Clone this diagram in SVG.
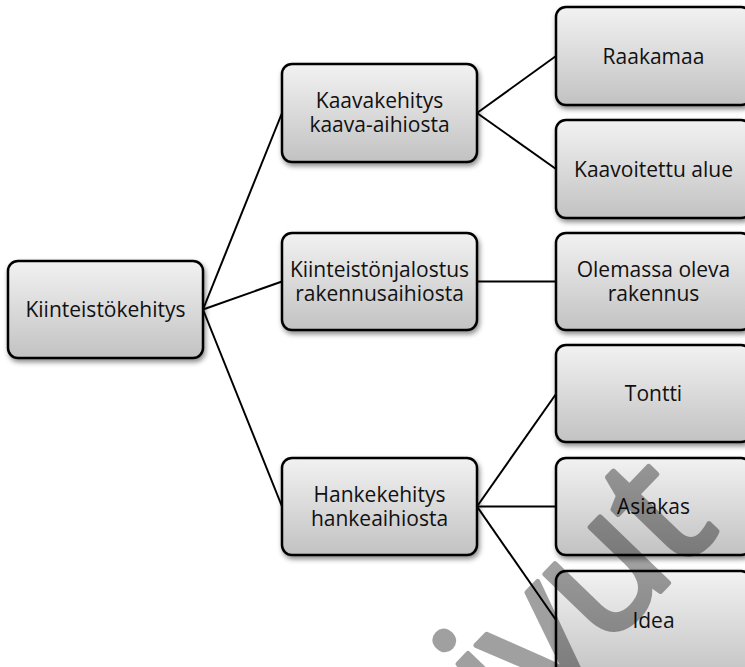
<svg xmlns="http://www.w3.org/2000/svg" width="745" height="667" viewBox="0 0 745 667">
<defs>
<linearGradient id="g" x1="0" y1="0" x2="0" y2="1">
<stop offset="0" stop-color="#f2f2f2"/>
<stop offset="1" stop-color="#c2c2c2"/>
</linearGradient>
<filter id="sh" x="-10%" y="-10%" width="130%" height="140%">
<feDropShadow dx="1.5" dy="3" stdDeviation="2.5" flood-color="#000" flood-opacity="0.45"/>
</filter>
</defs>
<style>
.box{fill:url(#g);stroke:#000;stroke-width:2.5;filter:url(#sh)}
.t{font-family:"Open Sans","Noto Sans",sans-serif;font-size:21px;fill:#111;text-anchor:middle}
.c{stroke:#000;stroke-width:2;fill:none}
.wm{font-family:"Open Sans","Noto Sans",sans-serif;font-size:178px;fill:#000;stroke:#000;stroke-width:5px;stroke-linejoin:round;letter-spacing:-4px}
</style>
<rect width="745" height="667" fill="#fff"/>
<g id="connectors">
<line class="c" x1="203" y1="309.5" x2="282" y2="113"/>
<line class="c" x1="203" y1="309.5" x2="282" y2="281.5"/>
<line class="c" x1="203" y1="309.5" x2="282" y2="506.5"/>
<line class="c" x1="477" y1="113" x2="556" y2="56"/>
<line class="c" x1="477" y1="113" x2="556" y2="169"/>
<line class="c" x1="477" y1="281.5" x2="556" y2="281.5"/>
<line class="c" x1="477" y1="506.5" x2="556" y2="394"/>
<line class="c" x1="477" y1="506.5" x2="556" y2="506.5"/>
<line class="c" x1="477" y1="506.5" x2="556" y2="620"/>
</g>
<g id="root"><rect class="box" x="8" y="261" width="195" height="97" rx="10"/><text class="t" x="105.5" y="317">Kiinteistökehitys</text></g>
<g id="kaavakehitys"><rect class="box" x="282" y="64" width="195" height="98" rx="10"/><text class="t" x="379.5" y="108">Kaavakehitys</text><text class="t" x="379.5" y="132">kaava-aihiosta</text></g>
<g id="kiinteistonjalostus"><rect class="box" x="282" y="233" width="195" height="97" rx="10"/><text class="t" x="379.5" y="276.5">Kiinteistönjalostus</text><text class="t" x="379.5" y="300.5">rakennusaihiosta</text></g>
<g id="hankekehitys"><rect class="box" x="282" y="458" width="195" height="97" rx="10"/><text class="t" x="379.5" y="501.5">Hankekehitys</text><text class="t" x="379.5" y="525.5">hankeaihiosta</text></g>
<g id="raakamaa"><rect class="box" x="556" y="7" width="195" height="98" rx="10"/><text class="t" x="653.5" y="64">Raakamaa</text></g>
<g id="kaavoitettu"><rect class="box" x="556" y="120" width="195" height="98" rx="10"/><text class="t" x="653.5" y="176.5">Kaavoitettu alue</text></g>
<g id="olemassa"><rect class="box" x="556" y="233" width="195" height="97" rx="10"/><text class="t" x="653.5" y="276.5">Olemassa oleva</text><text class="t" x="653.5" y="300.5">rakennus</text></g>
<g id="tontti"><rect class="box" x="556" y="345" width="195" height="97" rx="10"/><text class="t" x="653.5" y="401">Tontti</text></g>
<g id="asiakas"><rect class="box" x="556" y="458" width="195" height="97" rx="10"/><text class="t" x="653.5" y="514">Asiakas</text></g>
<g id="idea"><rect class="box" x="556" y="571" width="195" height="110" rx="10"/><text class="t" x="653.5" y="627.5">Idea</text></g>
<g opacity="0.37"><text class="wm" transform="translate(516,741) rotate(-46)">ivut</text></g>
</svg>
